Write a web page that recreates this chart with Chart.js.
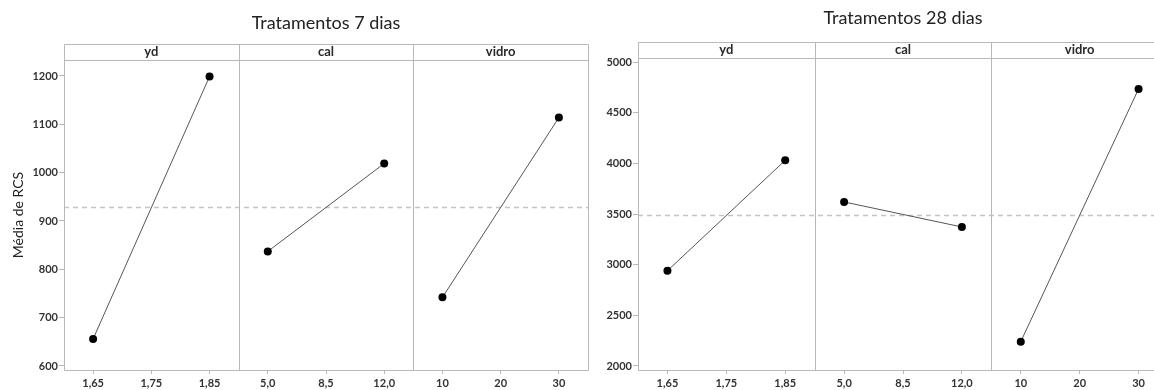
<!DOCTYPE html>
<html>
<head>
<meta charset="utf-8">
<script src="https://cdn.jsdelivr.net/npm/chart.js@4"></script>
<style>
  html, body { margin: 0; padding: 0; background: #fff; overflow: hidden; width: 1154px; height: 390px; }
  canvas { position: absolute; top: 0; }
  #c7 { left: 0; }
  #c28 { left: 590px; }
</style>
</head>
<body>
<canvas id="c7" width="598" height="390"></canvas>
<canvas id="c28" width="590" height="390"></canvas>
<script>
// factors and their levels (tick labels along x)
const factors = ['yd', 'cal', 'vidro'];
const xLabels = ['1,65', '1,75', '1,85', '5,0', '8,5', '12,0', '10', '20', '30'];
const lowLevels = ['1,65', '5,0', '10'];
const highLevels = ['1,85', '12,0', '30'];

// 7 days means
const low7 = [656, 837, 742];
const high7 = [1199, 1019, 1114];
const mean7 = 928;
const yTicks7 = [600, 700, 800, 900, 1000, 1100, 1200];

// 28 days means
const low28 = [2940, 3619, 2240];
const high28 = [4030, 3372, 4734];
const mean28 = 3490;
const yTicks28 = [2000, 2500, 3000, 3500, 4000, 4500, 5000];

const FONT = 'Lato, "Open Sans", sans-serif';

// minitab-like panel box, header strip, separators and mean line
const panelPlugin = {
    id: 'panels',
    beforeDatasetsDraw(chart, args, opts) {
        const { ctx, chartArea: a, scales: { x, y } } = chart;
        const top = a.top - opts.header;
        ctx.save();

        const ym = Math.round(y.getPixelForValue(opts.mean)) + 0.5;
        ctx.strokeStyle = '#c4c4c4';
        ctx.lineWidth = 1.5;
        ctx.setLineDash([5, 4]);
        ctx.beginPath();
        ctx.moveTo(a.left, ym);
        ctx.lineTo(a.right, ym);
        ctx.stroke();
        ctx.setLineDash([]);

        ctx.strokeStyle = '#b8b8b8';
        ctx.lineWidth = 1;
        ctx.beginPath();
        ctx.rect(Math.round(a.left) + 0.5, Math.round(top) + 0.5,
                 Math.round(a.right - a.left), Math.round(a.bottom - top));
        ctx.moveTo(a.left, Math.round(a.top) + 0.5);
        ctx.lineTo(a.right, Math.round(a.top) + 0.5);
        [2.5, 5.5].forEach(v => {
            const px = Math.round(x.getPixelForValue(v)) + 0.5;
            ctx.moveTo(px, top);
            ctx.lineTo(px, a.bottom);
        });
        ctx.stroke();

        ctx.fillStyle = '#2a2a2a';
        ctx.font = 'bold 13px ' + FONT;
        ctx.textAlign = 'center';
        ctx.textBaseline = 'middle';
        factors.forEach((f, i) => {
            ctx.fillText(f, x.getPixelForValue(i * 3 + 1), top + opts.header / 2);
        });
        ctx.restore();
    }
};

function buildDatasets(low, high) {
    return factors.map((f, i) => ({
        label: f,
        data: [{ x: lowLevels[i], y: low[i] }, { x: highLevels[i], y: high[i] }],
        borderColor: '#555',
        borderWidth: 1,
        pointRadius: 4,
        pointBackgroundColor: '#000',
        pointBorderColor: '#000',
        pointBorderWidth: 0,
        clip: false
    }));
}

function makeChart(id, cfg) {
    const ctx = document.getElementById(id).getContext('2d');
    return new Chart(ctx, {
        type: 'line',
        data: {
            labels: xLabels,
            datasets: buildDatasets(cfg.low, cfg.high)
        },
        options: {
            responsive: false,
            animation: false,
            layout: { padding: { left: 0, right: cfg.padRight, top: 0, bottom: 0 } },
            scales: {
                x: {
                    type: 'category',
                    offset: true,
                    grid: {
                        offset: false,
                        drawOnChartArea: false,
                        tickLength: 4,
                        color: '#b8b8b8'
                    },
                    border: { display: false },
                    ticks: {
                        autoSkip: false,
                        maxRotation: 0,
                        padding: 3,
                        color: '#333',
                        font: { family: FONT, size: 11, weight: 'bold' }
                    },
                    afterFit(scale) { scale.height = 20; }
                },
                y: {
                    min: cfg.yMin,
                    max: cfg.yMax,
                    grid: {
                        drawOnChartArea: false,
                        tickLength: 5,
                        color: '#b8b8b8'
                    },
                    border: { display: false },
                    afterBuildTicks(scale) {
                        scale.ticks = cfg.yTicks.map(v => ({ value: v }));
                    },
                    ticks: {
                        padding: 1,
                        color: '#333',
                        font: { family: FONT, size: 11, weight: 'bold' },
                        callback: v => String(v)
                    },
                    title: {
                        display: !!cfg.yTitle,
                        text: cfg.yTitle || '',
                        color: '#222',
                        padding: { top: 10, bottom: 0 },
                        font: { family: FONT, size: 14 }
                    },
                    afterFit(scale) { scale.width = cfg.yWidth; }
                }
            },
            plugins: {
                legend: { display: false },
                tooltip: { enabled: false },
                title: {
                    display: true,
                    text: cfg.title,
                    fullSize: false,
                    color: '#222',
                    font: { family: FONT, size: 18, weight: 'normal' },
                    padding: { top: cfg.titleTop, bottom: cfg.titleBottom }
                },
                panels: { header: 16, mean: cfg.mean }
            }
        },
        plugins: [panelPlugin]
    });
}

makeChart('c7', {
    low: low7, high: high7, mean: mean7, yTicks: yTicks7,
    yMin: 591.7, yMax: 1233.1,
    yTitle: 'Média de RCS', yWidth: 64,
    padRight: 10,
    title: 'Tratamentos 7 dias', titleTop: 12, titleBottom: 26.4
});

makeChart('c28', {
    low: low28, high: high28, mean: mean28, yTicks: yTicks28,
    yMin: 1960.5, yMax: 5039.5,
    yTitle: '', yWidth: 48,
    padRight: 12,
    title: 'Tratamentos 28 dias', titleTop: 7, titleBottom: 29.4
});
</script>
</body>
</html>
